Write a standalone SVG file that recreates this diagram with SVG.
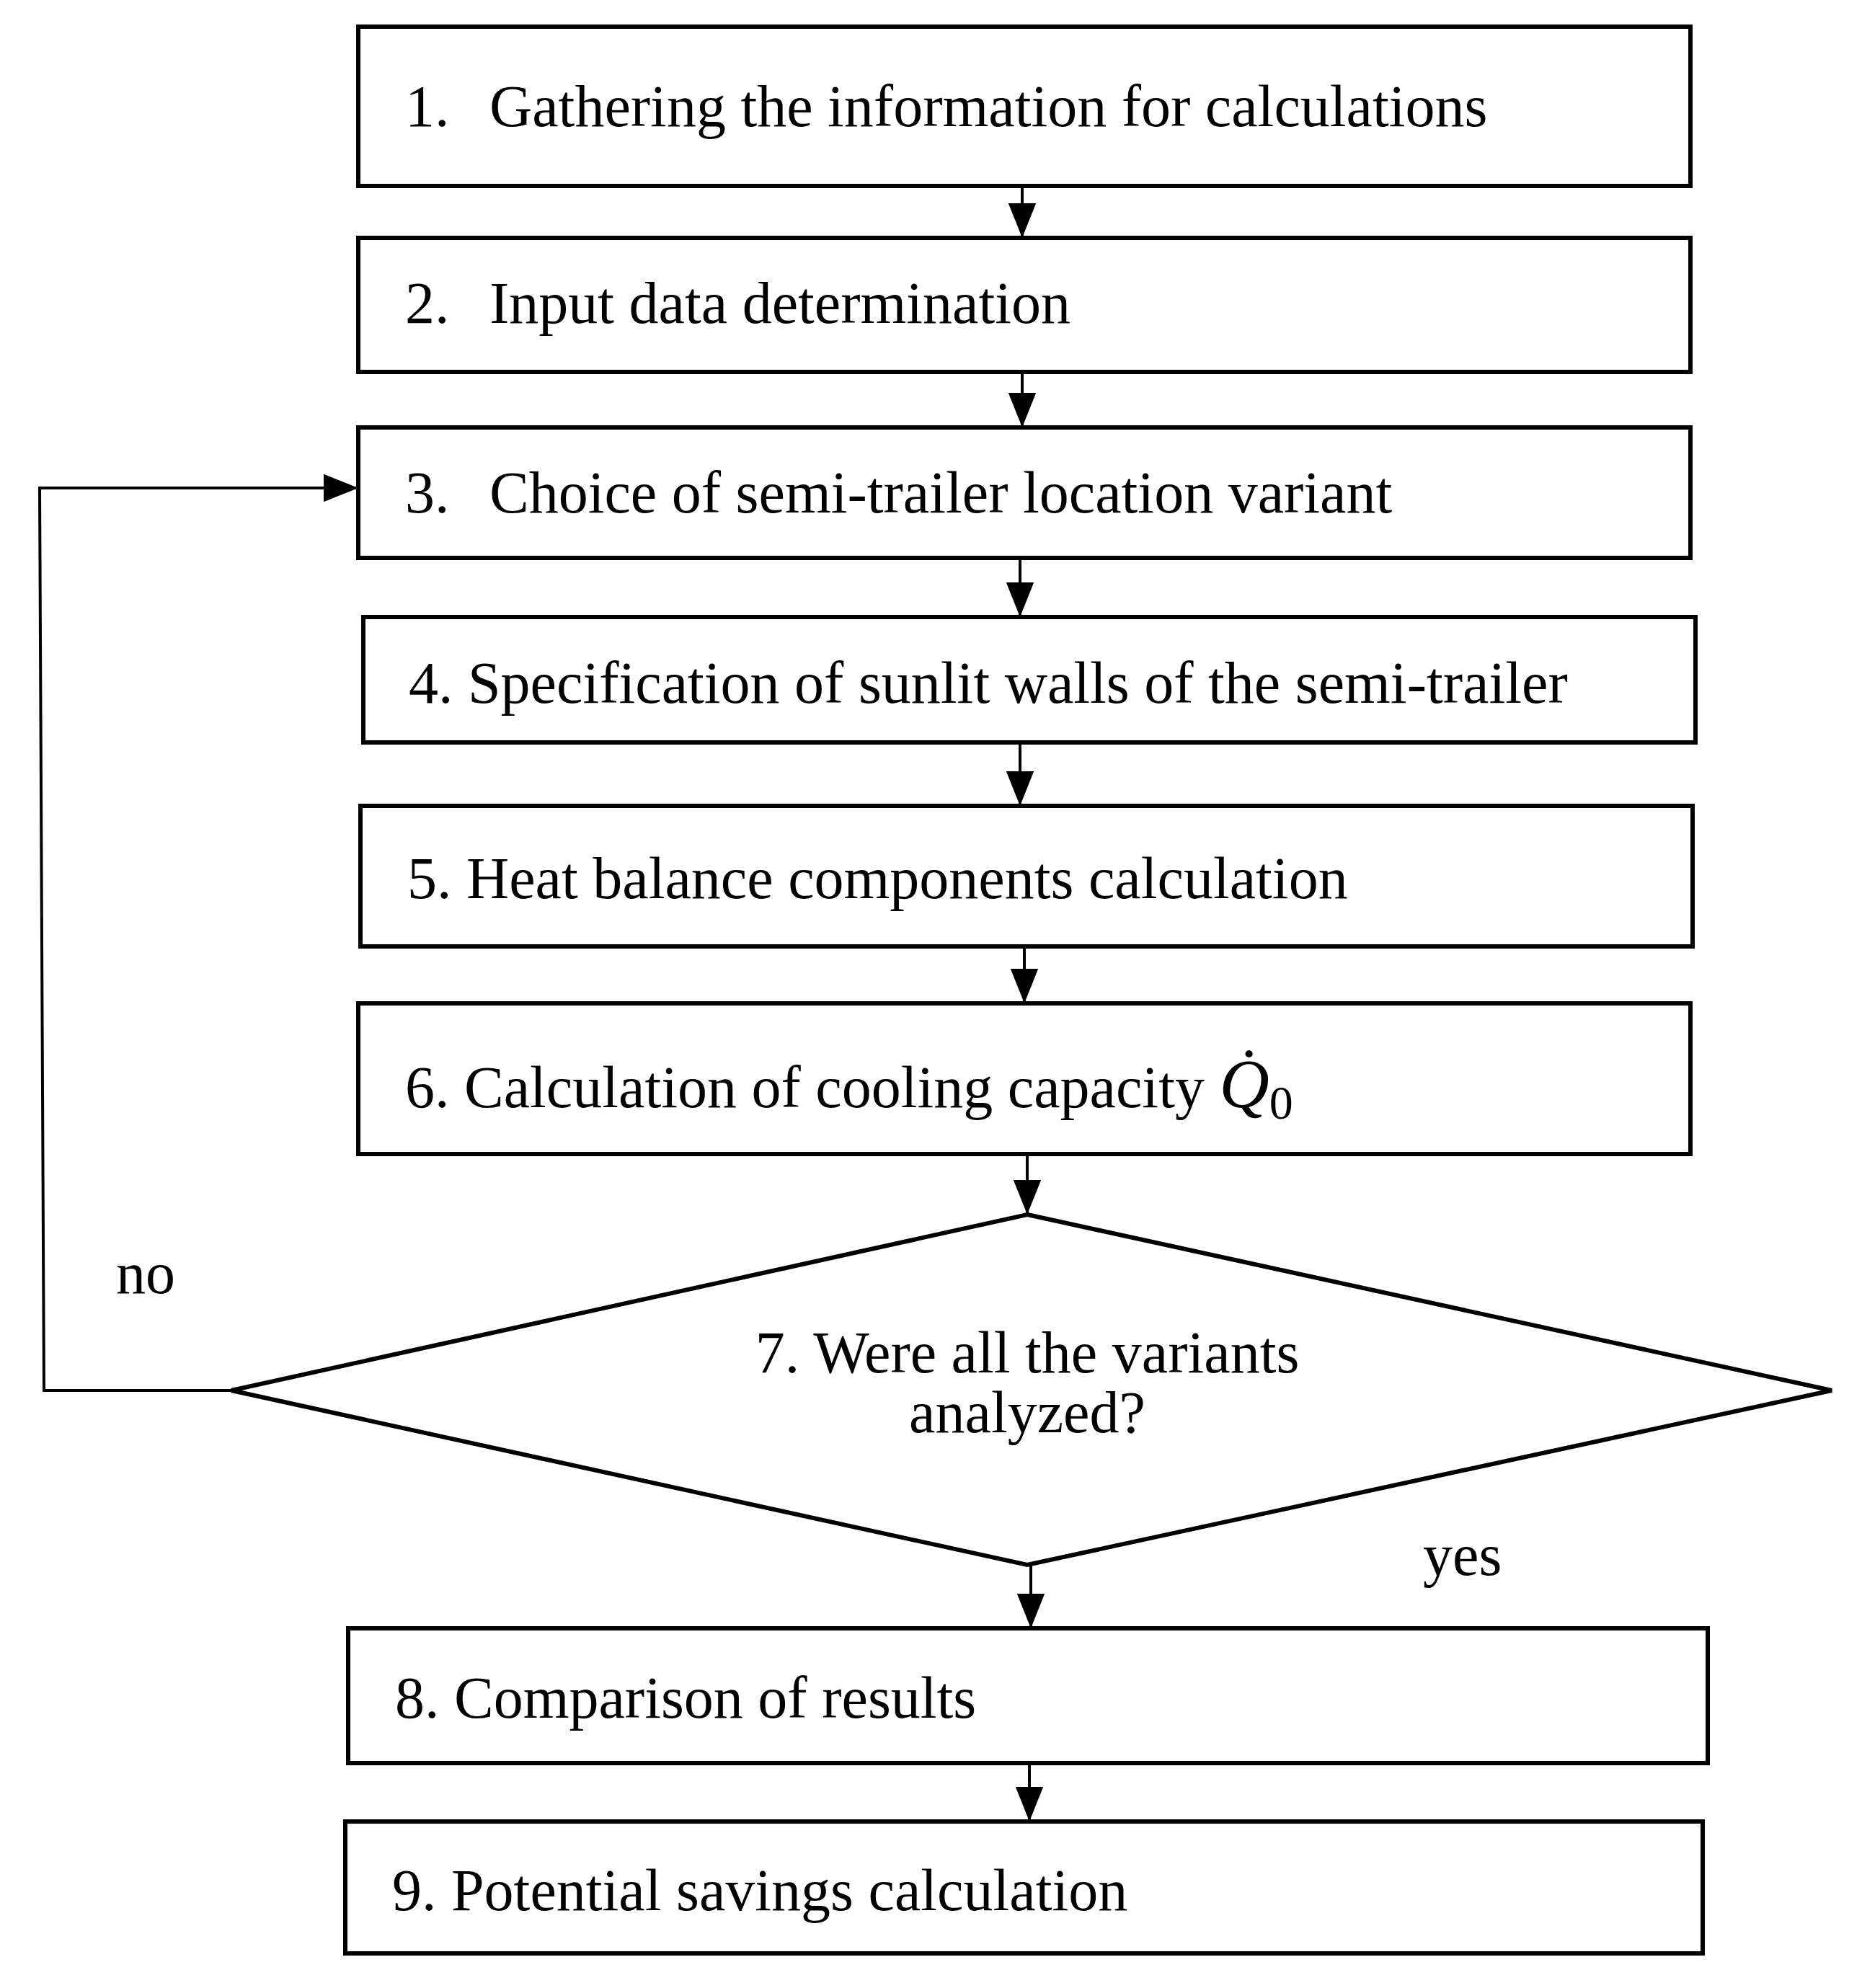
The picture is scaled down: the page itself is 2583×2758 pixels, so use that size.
<svg xmlns="http://www.w3.org/2000/svg" width="2583" height="2758" viewBox="0 0 2583 2758">
<style>
.b{fill:#fff;stroke:#000;stroke-width:6}
.t{font-family:"Liberation Serif","Times New Roman",serif;font-size:82px;fill:#000}
.c{fill:none;stroke:#000;stroke-width:4}
</style>
<defs><marker id="h" viewBox="0 0 10 10" refX="10" refY="5" markerWidth="48" markerHeight="48" markerUnits="userSpaceOnUse" orient="auto"><path d="M0,1L10,5L0,9z" fill="#000"/></marker></defs>
<rect width="2583" height="2758" fill="#fff"/>
<g id="n1"><rect class="b" x="497" y="37" width="1848" height="221"/><text class="t" y="175"><tspan x="562">1.</tspan><tspan x="679">Gathering the information for calculations</tspan></text></g>
<g id="n2"><rect class="b" x="497" y="330" width="1848" height="186"/><text class="t" y="448"><tspan x="562">2.</tspan><tspan x="679">Input data determination</tspan></text></g>
<g id="n3"><rect class="b" x="497" y="593" width="1848" height="181"/><text class="t" y="711"><tspan x="562">3.</tspan><tspan x="679">Choice of semi-trailer location variant</tspan></text></g>
<g id="n4"><rect class="b" x="504" y="856" width="1848" height="174"/><text class="t" x="567" y="975">4. Specification of sunlit walls of the semi-trailer</text></g>
<g id="n5"><rect class="b" x="500" y="1118" width="1848" height="195"/><text class="t" x="565" y="1246">5. Heat balance components calculation</text></g>
<g id="n6"><rect class="b" x="497" y="1392" width="1848" height="209"/><text class="t" x="562" y="1536">6. Calculation of cooling capacity <tspan font-style="italic" font-size="96">Q̇</tspan><tspan font-size="66" dy="16">0</tspan></text></g>
<g id="n7"><polygon class="b" stroke-width="4" points="1425,1685 2541,1929 1425,2171 321,1929"/><text class="t" text-anchor="middle"><tspan x="1425" y="1904">7. Were all the variants</tspan><tspan x="1425" y="1987">analyzed?</tspan></text></g>
<g id="n8"><rect class="b" x="483" y="2259" width="1886" height="187"/><text class="t" x="548" y="2383">8. Comparison of results</text></g>
<g id="n9"><rect class="b" x="479" y="2527" width="1883" height="183"/><text class="t" x="544" y="2650">9. Potential savings calculation</text></g>
<g id="edges">
<line class="c" x1="1418" y1="258" x2="1418" y2="330" marker-end="url(#h)"/>
<line class="c" x1="1418" y1="516" x2="1418" y2="593" marker-end="url(#h)"/>
<line class="c" x1="1415" y1="774" x2="1415" y2="856" marker-end="url(#h)"/>
<line class="c" x1="1415" y1="1030" x2="1415" y2="1118" marker-end="url(#h)"/>
<line class="c" x1="1421" y1="1313" x2="1421" y2="1392" marker-end="url(#h)"/>
<line class="c" x1="1425" y1="1601" x2="1425" y2="1685" marker-end="url(#h)"/>
<line class="c" x1="1430" y1="2171" x2="1430" y2="2259" marker-end="url(#h)"/>
<line class="c" x1="1428" y1="2446" x2="1428" y2="2527" marker-end="url(#h)"/>
<polyline class="c" points="321,1929 61,1929 55,677 497,677" marker-end="url(#h)"/>
<text class="t" x="161" y="1794">no</text>
<text class="t" x="1974" y="2185">yes</text>
</g>
</svg>
